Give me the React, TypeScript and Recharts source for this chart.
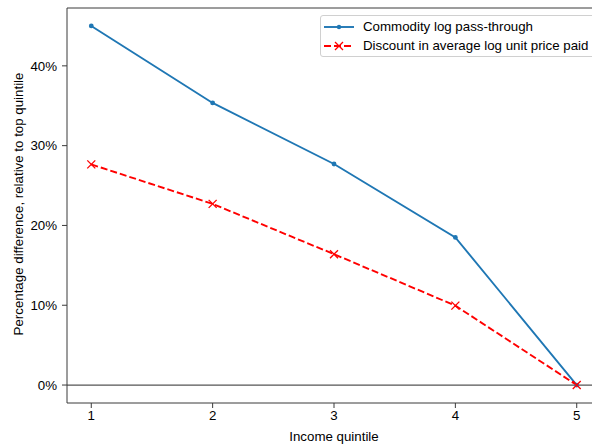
import React from "react";
import {
  LineChart,
  Line,
  XAxis,
  YAxis,
  ReferenceLine,
  Label,
} from "recharts";

// income quintiles and the two series (percent, relative to top quintile)
const quintiles = [1, 2, 3, 4, 5];
const passThrough = [45.0, 35.35, 27.7, 18.5, 0];
const priceDiscount = [27.65, 22.7, 16.4, 9.95, 0];
const yTicks = [0, 10, 20, 30, 40];

const data = quintiles.map((q, i) => ({
  q,
  passThrough: passThrough[i],
  discount: priceDiscount[i],
}));

const FONT = "'Liberation Sans', Arial, sans-serif";
const FS = 13.3;
const AXIS = "#3a3a3a";
const BLUE = "#1f77b4";
const RED = "#ff0000";

const XMark = (props: { cx?: number; cy?: number }) => {
  const { cx, cy } = props;
  if (cx == null || cy == null) return null;
  const s = 4;
  return (
    <g stroke={RED} strokeWidth={1.3}>
      <line x1={cx - s} y1={cy - s} x2={cx + s} y2={cy + s} />
      <line x1={cx - s} y1={cy + s} x2={cx + s} y2={cy - s} />
    </g>
  );
};

const LegendBox = () => (
  <div
    style={{
      position: "absolute",
      left: 320,
      top: 15,
      width: 290,
      height: 42,
      border: "1px solid #d0d0d0",
      borderRadius: 3,
      background: "#fff",
      fontFamily: FONT,
      fontSize: FS,
      color: "#000",
      padding: "1px 0 0 0",
      boxSizing: "border-box",
    }}
  >
    <div style={{ display: "flex", alignItems: "center", height: 19 }}>
      <svg width={40} height={12} style={{ marginLeft: 2 }}>
        <line x1={1} y1={6} x2={31} y2={6} stroke={BLUE} strokeWidth={1.9} />
        <circle cx={16} cy={6} r={2.2} fill={BLUE} />
      </svg>
      <span>Commodity log pass-through</span>
    </div>
    <div style={{ display: "flex", alignItems: "center", height: 19 }}>
      <svg width={40} height={12} style={{ marginLeft: 2 }}>
        <line
          x1={1}
          y1={6}
          x2={31}
          y2={6}
          stroke={RED}
          strokeWidth={1.9}
          strokeDasharray="7 3"
        />
        <XMark cx={16} cy={6} />
      </svg>
      <span>Discount in average log unit price paid</span>
    </div>
  </div>
);

const YTitle = () => {
  const cy = 204;
  return (
    <text
      x={18}
      y={cy}
      transform={`rotate(-90, 18, ${cy})`}
      textAnchor="middle"
      dominantBaseline="central"
      fontFamily={FONT}
      fontSize={FS}
      fill="#000"
    >
      Percentage difference, relative to top quintile
    </text>
  );
};

const XTitle = () => (
  <text
    x={334}
    y={436}
    textAnchor="middle"
    dominantBaseline="central"
    fontFamily={FONT}
    fontSize={FS}
    fill="#000"
  >
    Income quintile
  </text>
);

export default function App() {
  return (
    <div
      style={{
        position: "fixed",
        left: 0,
        top: 0,
        width: 592,
        height: 444,
        overflow: "hidden",
        background: "#fff",
      }}
    >
      <LineChart
        width={610}
        height={444}
        data={data}
        margin={{ top: 8, right: 9, bottom: 0, left: 0 }}
      >
        <XAxis
          dataKey="q"
          type="number"
          domain={[0.8, 5.2]}
          ticks={quintiles}
          allowDataOverflow
          height={41}
          stroke={AXIS}
          tickSize={5}
          tickMargin={3}
          tick={{ fill: "#000", fontSize: FS, fontFamily: FONT }}
        >
          <Label content={<XTitle />} />
        </XAxis>
        <YAxis
          type="number"
          domain={[-2.25, 47.25]}
          ticks={yTicks}
          allowDataOverflow
          width={67}
          stroke={AXIS}
          tickSize={5}
          tickMargin={5}
          tickFormatter={(v) => `${v}%`}
          tick={{ fill: "#000", fontSize: FS, fontFamily: FONT }}
        >
          <Label content={<YTitle />} />
        </YAxis>
        <ReferenceLine y={47.25} stroke={AXIS} strokeWidth={1} />
        <ReferenceLine y={0} stroke="#555" strokeWidth={1.2} />
        <Line
          dataKey="passThrough"
          stroke={BLUE}
          strokeWidth={1.9}
          dot={{ r: 2.4, fill: BLUE, stroke: BLUE, strokeWidth: 0 }}
          activeDot={false}
          isAnimationActive={false}
        />
        <Line
          dataKey="discount"
          stroke={RED}
          strokeWidth={1.9}
          strokeDasharray="7 3"
          dot={<XMark />}
          activeDot={false}
          isAnimationActive={false}
        />
      </LineChart>
      <LegendBox />
    </div>
  );
}
